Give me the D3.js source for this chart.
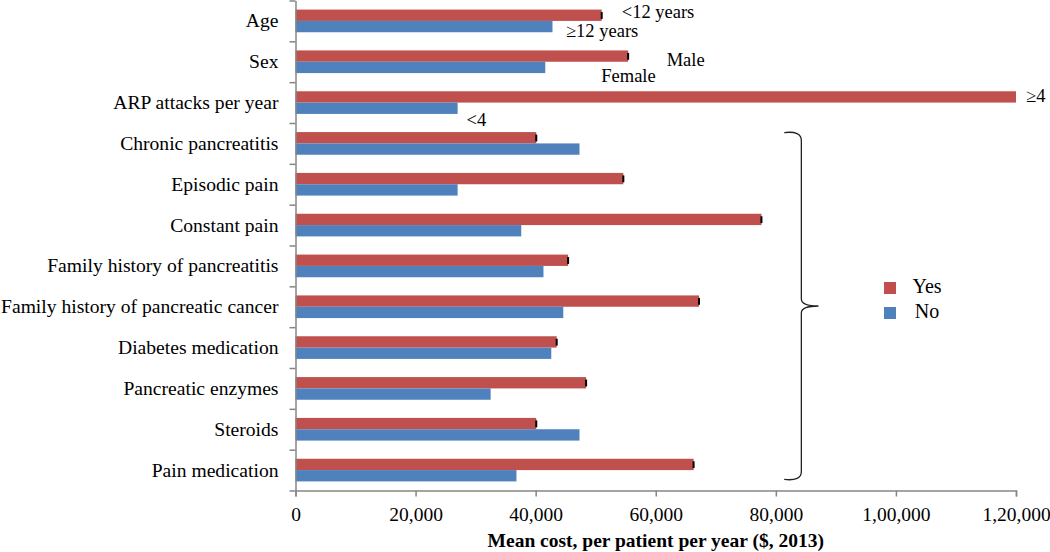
<!DOCTYPE html>
<html>
<head>
<meta charset="utf-8">
<script src="https://cdn.jsdelivr.net/npm/d3@7"></script>
<style>
  html, body { margin: 0; padding: 0; background: #fff; }
  svg { display: block; }
  text { font-family: "Liberation Serif", "Times New Roman", serif; fill: #000; }
</style>
</head>
<body>
<svg id="chart" width="1050" height="552"></svg>
<script>
// ---- data ----
const categories = [
  "Age", "Sex", "ARP attacks per year", "Chronic pancreatitis", "Episodic pain",
  "Constant pain", "Family history of pancreatitis", "Family history of pancreatic cancer",
  "Diabetes medication", "Pancreatic enzymes", "Steroids", "Pain medication"
];
const seriesNames = ["Yes", "No"];
const yesValues = [51000, 55400, 120000, 40100, 54600, 77600, 45400, 67200, 43500, 48400, 40100, 66300];
const noValues  = [42800, 41600, 27000, 47300, 27000, 37600, 41300, 44600, 42600, 32500, 47300, 36800];
const tickValues = [0, 20000, 40000, 60000, 80000, 100000, 120000];
const tickLabels = ["0", "20,000", "40,000", "60,000", "80,000", "1,00,000", "1,20,000"];
const axisTitle = "Mean cost, per patient per year ($, 2013)";
// subgroup annotations: [text, category, series]
const annotationTexts = ["<12 years", "\u226512 years", "Male", "Female", "\u22654", "<4"];
const annotationCategories = ["Age", "Age", "Sex", "Sex", "ARP attacks per year", "ARP attacks per year"];
const annotationSeries = ["Yes", "No", "Yes", "No", "Yes", "No"];
// brace spans these categories
const braceFrom = "Chronic pancreatitis";
const braceTo = "Pain medication";

// ---- layout ----
const colors = { Yes: "#C0504D", No: "#4F81BD" };
const axisColor = "#868686";
const plot = { left: 295.5, right: 1016, top: 0.5, bottom: 490.5 };
// pixel offsets of annotation text relative to bar end / bar centre
const annotationOffsets = [[20, 2.5], [13.5, 10.5], [38.5, 9.5], [56, 14.5], [10, 5.5], [9, 17.5]];

const svg = d3.select("#chart");

const x = d3.scaleLinear().domain([0, 120000]).range([plot.left, plot.right]);
const y = d3.scaleBand().domain(categories).range([plot.top, plot.bottom])
  .paddingInner(0.445).paddingOuter(0.2225);
const ySub = d3.scaleBand().domain(seriesNames).range([0, y.bandwidth()]).padding(0);

const rows = categories.map((c, i) => ({ cat: c, Yes: yesValues[i], No: noValues[i] }));

// bars
const g = svg.append("g");
const rowG = g.selectAll("g.row").data(rows).join("g")
  .attr("class", "row")
  .attr("transform", d => `translate(0,${y(d.cat)})`);

rowG.selectAll("rect.bar")
  .data(d => seriesNames.map(s => ({ s, v: d[s] })))
  .join("rect")
  .attr("class", "bar")
  .attr("x", x(0))
  .attr("y", d => ySub(d.s))
  .attr("width", d => x(d.v) - x(0))
  .attr("height", ySub.bandwidth())
  .attr("fill", d => colors[d.s]);

// black end caps on the "Yes" bars
rowG.filter(d => d.Yes < x.domain()[1])
  .append("rect")
  .attr("x", d => x(d.Yes) - 1)
  .attr("y", ySub("Yes") + 2.5)
  .attr("width", 2)
  .attr("height", ySub.bandwidth() - 4.5)
  .attr("fill", "#000");

// x axis
const xAxis = d3.axisBottom(x)
  .tickValues(tickValues)
  .tickFormat((d, i) => tickLabels[i])
  .tickSize(6).tickPadding(11);
const xg = svg.append("g").attr("transform", `translate(0,${plot.bottom})`).call(xAxis);
xg.select(".domain").attr("stroke", axisColor).attr("stroke-width", 1.5);
xg.selectAll(".tick line").attr("stroke", axisColor).attr("stroke-width", 1.5);
xg.selectAll(".tick text")
  .style("font-family", "'Liberation Serif', serif")
  .style("font-size", "19.5px").attr("fill", "#000");

// y axis: ticks at band boundaries
const yLin = d3.scaleLinear().domain([0, categories.length]).range([plot.top, plot.bottom]);
const yg = svg.append("g").attr("transform", `translate(${plot.left},0)`)
  .call(d3.axisLeft(yLin).tickValues(d3.range(categories.length + 1)).tickFormat("").tickSize(6).tickSizeOuter(0));
yg.select(".domain").attr("stroke", axisColor).attr("stroke-width", 1.5);
yg.selectAll(".tick line").attr("stroke", axisColor).attr("stroke-width", 1.5);

// category labels
svg.append("g").selectAll("text").data(categories).join("text")
  .attr("x", 278.5)
  .attr("y", d => y(d) + y.bandwidth() / 2 + 6.5)
  .attr("text-anchor", "end")
  .style("font-size", "19.6px")
  .text(d => d);

// axis title
svg.append("text")
  .attr("x", (plot.left + plot.right) / 2)
  .attr("y", 547)
  .attr("text-anchor", "middle")
  .style("font-size", "19.5px")
  .style("font-weight", "bold")
  .text(axisTitle);

// subgroup annotations
annotationTexts.forEach((t, i) => {
  const cat = annotationCategories[i], s = annotationSeries[i];
  const row = rows[categories.indexOf(cat)];
  const [dx, dy] = annotationOffsets[i];
  svg.append("text")
    .attr("x", x(row[s]) + dx)
    .attr("y", y(cat) + ySub(s) + ySub.bandwidth() / 2 + dy)
    .style("font-size", "18.5px")
    .text(t);
});

// brace
const bTop = y(braceFrom) + 0.5;
const bBot = y(braceTo) + y.bandwidth() - 2;
const bMid = (bTop + bBot) / 2;
const bx = x(84250), bL = x(81400), bTip = x(87100);
const bracePath = d3.path();
bracePath.moveTo(bL, bTop);
bracePath.quadraticCurveTo(bx, bTop - 2, bx, bTop + 8);
bracePath.lineTo(bx, bMid - 7);
bracePath.quadraticCurveTo(bx, bMid, bTip, bMid);
bracePath.moveTo(bTip, bMid);
bracePath.quadraticCurveTo(bx, bMid, bx, bMid + 7);
bracePath.lineTo(bx, bBot - 8);
bracePath.quadraticCurveTo(bx, bBot + 2, bL, bBot);
svg.append("path").attr("d", bracePath.toString())
  .attr("fill", "none").attr("stroke", "#222").attr("stroke-width", 1.3);

// legend
const legend = svg.append("g");
seriesNames.forEach((s, i) => {
  const ly = 282 + i * 25;
  legend.append("rect").attr("x", 884).attr("y", ly).attr("width", 12).attr("height", 12)
    .attr("fill", colors[s]);
  legend.append("text").attr("x", 927).attr("y", ly + 11)
    .attr("text-anchor", "middle").style("font-size", "20px").text(s);
});
</script>
</body>
</html>
